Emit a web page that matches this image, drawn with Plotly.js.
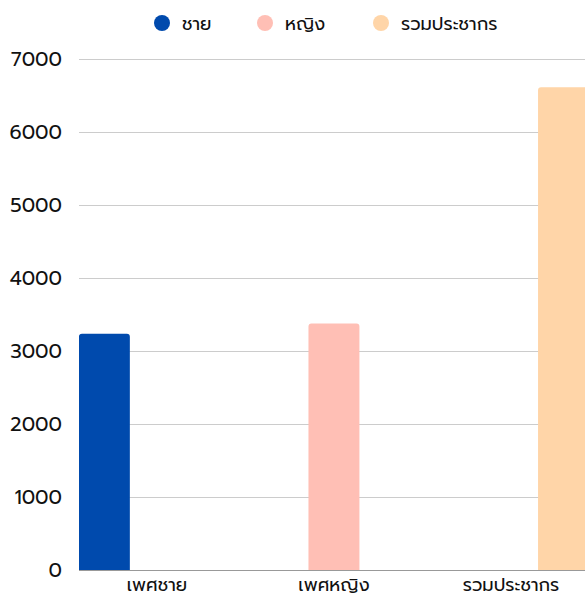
<!DOCTYPE html>
<html>
<head>
<meta charset="utf-8">
<script src="https://cdn.plot.ly/plotly-3.0.1.min.js"></script>
<style>html,body{margin:0;padding:0;background:#fff;}#chart{width:585px;height:597px;}</style>
</head>
<body>
<div id="chart"></div>
<script>
const categories = ["เพศชาย", "เพศหญิง", "รวมประชากร"];
const seriesNames = ["ชาย", "หญิง", "รวมประชากร"];
const maleValues = [3240, null, null];
const femaleValues = [null, 3380, null];
const totalValues = [null, null, 6620];
const colors = ["#004AAD", "#FFBFB5", "#FFD5A8"];
const yTicks = [0, 1000, 2000, 3000, 4000, 5000, 6000, 7000];

const FONT = "Prompt, Kanit, 'Noto Sans Thai', 'Noto Sans', sans-serif";
const allValues = [maleValues, femaleValues, totalValues];
const legendIds = ["legend", "legend2", "legend3"];
const legendX = [142, 245, 361];

const traces = [];
allValues.forEach((vals, i) => {
  traces.push({
    type: "bar",
    x: categories,
    y: vals,
    name: seriesNames[i],
    marker: {color: colors[i], cornerradius: 3},
    showlegend: false,
    legendgroup: "g" + i,
    hoverinfo: "y"
  });
});
allValues.forEach((vals, i) => {
  traces.push({
    type: "scatter",
    mode: "markers",
    x: [null],
    y: [null],
    name: seriesNames[i],
    marker: {color: colors[i], size: 18, symbol: "circle"},
    showlegend: true,
    legend: legendIds[i],
    legendgroup: "g" + i
  });
});

const layout = {
  width: 585,
  height: 597,
  margin: {l: 79, r: 0, t: 58, b: 27},
  paper_bgcolor: "#fff",
  plot_bgcolor: "#fff",
  font: {family: FONT, size: 18, color: "#111"},
  barmode: "group",
  bargap: 0.11,
  bargroupgap: 0.03,
  showlegend: true,
  xaxis: {
    type: "category",
    range: [-0.44, 2.418],
    showgrid: false,
    showline: false,
    ticks: "",
    ticklabelstandoff: 2,
    tickfont: {family: FONT, size: 18, color: "#111"},
    fixedrange: true
  },
  yaxis: {
    range: [0, 7020],
    tickvals: yTicks,
    ticktext: yTicks.map(String),
    showgrid: true,
    gridcolor: "#cccccc",
    gridwidth: 1,
    zeroline: true,
    zerolinecolor: "#999999",
    zerolinewidth: 1,
    showline: false,
    ticks: "",
    ticklabelstandoff: 16,
    tickfont: {family: FONT, size: 20, color: "#111"},
    fixedrange: true
  }
};
legendIds.forEach((id, i) => {
  layout[id] = {
    orientation: "h",
    x: legendX[i] / 585, xanchor: "left", xref: "container",
    y: 0.992, yanchor: "top", yref: "container",
    bgcolor: "rgba(0,0,0,0)",
    font: {family: FONT, size: 18, color: "#111"},
    itemclick: false
  };
});

Plotly.newPlot("chart", traces, layout, {displayModeBar: false, staticPlot: true});
</script>
</body>
</html>
